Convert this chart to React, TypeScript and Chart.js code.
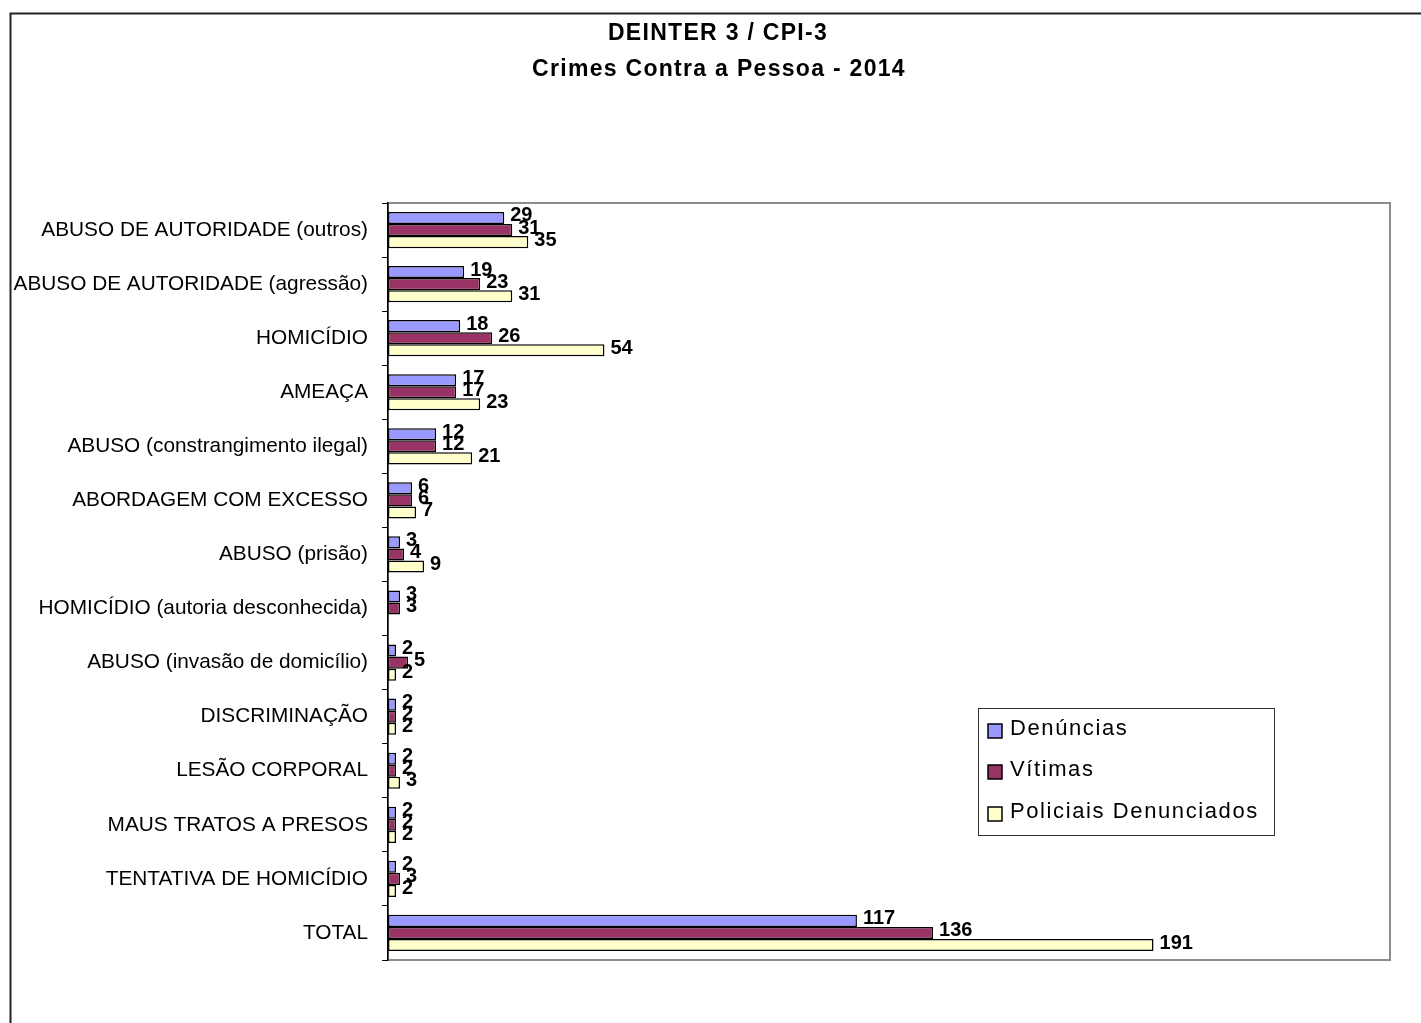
import React, { useEffect, useRef } from "react";
import { Chart, registerables } from "chart.js";

Chart.register(...registerables);

const categories = [
  "ABUSO DE AUTORIDADE (outros)",
  "ABUSO DE AUTORIDADE (agressão)",
  "HOMICÍDIO",
  "AMEAÇA",
  "ABUSO (constrangimento ilegal)",
  "ABORDAGEM COM EXCESSO",
  "ABUSO (prisão)",
  "HOMICÍDIO (autoria desconhecida)",
  "ABUSO (invasão de domicílio)",
  "DISCRIMINAÇÃO",
  "LESÃO CORPORAL",
  "MAUS TRATOS A PRESOS",
  "TENTATIVA DE HOMICÍDIO",
  "TOTAL",
];

const denuncias = [29, 19, 18, 17, 12, 6, 3, 3, 2, 2, 2, 2, 2, 117];
const vitimas = [31, 23, 26, 17, 12, 6, 4, 3, 5, 2, 2, 2, 3, 136];
const policiais = [35, 31, 54, 23, 21, 7, 9, 0, 2, 2, 3, 2, 2, 191];

const seriesNames = ["Denúncias", "Vítimas", "Policiais Denunciados"];
const seriesColors = ["#9999FF", "#993366", "#FFFFCC"];
const titleLines = ["DEINTER 3 / CPI-3", "Crimes Contra a Pessoa - 2014"];

const FONT = '"Liberation Sans", Arial, sans-serif';

const decorPlugin = {
  id: "decor",
  beforeDraw(chart: any) {
    const { ctx, chartArea } = chart;
    ctx.save();
    ctx.fillStyle = "#ffffff";
    ctx.fillRect(0, 0, chart.width, chart.height);
    // outer frame
    ctx.strokeStyle = "#222222";
    ctx.lineWidth = 2;
    ctx.strokeRect(10.5, 13.5, chart.width + 20, chart.height + 20);
    // plot area frame
    ctx.strokeStyle = "#8c8c8c";
    ctx.lineWidth = 2;
    ctx.strokeRect(
      chartArea.left,
      chartArea.top,
      chartArea.right - chartArea.left,
      chartArea.bottom - chartArea.top
    );
    // title
    ctx.fillStyle = "#000";
    ctx.font = `bold 23px ${FONT}`;
    (ctx as any).letterSpacing = "1.3px";
    ctx.textAlign = "center";
    ctx.textBaseline = "middle";
    ctx.fillText(titleLines[0], 718, 34);
    ctx.fillText(titleLines[1], 719, 70);
    (ctx as any).letterSpacing = "0px";
    ctx.restore();
  },
  afterDatasetsDraw(chart: any) {
    const { ctx } = chart;
    ctx.save();
    ctx.fillStyle = "#000";
    ctx.font = `bold 20px ${FONT}`;
    ctx.textAlign = "left";
    ctx.textBaseline = "middle";
    chart.data.datasets.forEach((ds: any, di: number) => {
      const meta = chart.getDatasetMeta(di);
      meta.data.forEach((bar: any, i: number) => {
        const v = ds.data[i];
        if (!v) return;
        ctx.fillText(String(v), bar.x + 6, bar.y - 2);
      });
    });
    ctx.restore();
  },
  afterDraw(chart: any) {
    const { ctx } = chart;
    ctx.save();
    // legend box
    ctx.fillStyle = "#ffffff";
    ctx.fillRect(978.5, 708.5, 296, 127);
    ctx.strokeStyle = "#333333";
    ctx.lineWidth = 1;
    ctx.strokeRect(978.5, 708.5, 296, 127);
    const ys = [730, 771, 813];
    ctx.font = `22px ${FONT}`;
    (ctx as any).letterSpacing = "1.6px";
    ctx.textAlign = "left";
    ctx.textBaseline = "middle";
    seriesNames.forEach((name, i) => {
      ctx.fillStyle = seriesColors[i];
      ctx.fillRect(988, ys[i] - 6, 14, 14);
      ctx.strokeStyle = "#000";
      ctx.lineWidth = 1.5;
      ctx.strokeRect(988, ys[i] - 6, 14, 14);
      ctx.fillStyle = "#000";
      ctx.fillText(name, 1010, ys[i] - 1);
    });
    (ctx as any).letterSpacing = "0px";
    ctx.restore();
  },
};

export default function App() {
  const ref = useRef<HTMLCanvasElement | null>(null);

  useEffect(() => {
    if (!ref.current) return;
    const seriesData = [denuncias, vitimas, policiais];
    const chart = new Chart(ref.current, {
      type: "bar",
      data: {
        labels: categories,
        datasets: seriesNames.map((name, i) => ({
          label: name,
          data: seriesData[i],
          backgroundColor: seriesColors[i],
          borderColor: "#000000",
          borderWidth: 1.5,
          borderSkipped: false,
          categoryPercentage: 0.67,
          barPercentage: 1,
        })),
      },
      options: {
        indexAxis: "y",
        responsive: false,
        animation: false,
        devicePixelRatio: 1,
        layout: { padding: { top: 203, right: 31, bottom: 63, left: 0 } },
        plugins: {
          legend: { display: false },
          title: { display: false },
          tooltip: { enabled: false },
        },
        scales: {
          x: {
            display: false,
            min: 0,
            max: 250,
          },
          y: {
            afterFit(scale: any) {
              scale.width = 388;
            },
            ticks: {
              autoSkip: false,
              color: "#000",
              padding: 14,
              font: { family: FONT, size: 20.8 },
            },
            grid: {
              drawOnChartArea: false,
              drawTicks: true,
              tickLength: 6,
              color: "#000",
              offset: true,
            },
            border: { display: true, color: "#000", width: 1.5 },
          },
        },
      },
      plugins: [decorPlugin],
    } as any);
    return () => chart.destroy();
  }, []);

  return (
    <div style={{ position: "absolute", left: 0, top: 0, width: 1421, height: 1023 }}>
      <canvas ref={ref} width={1421} height={1023} style={{ display: "block" }} />
    </div>
  );
}
